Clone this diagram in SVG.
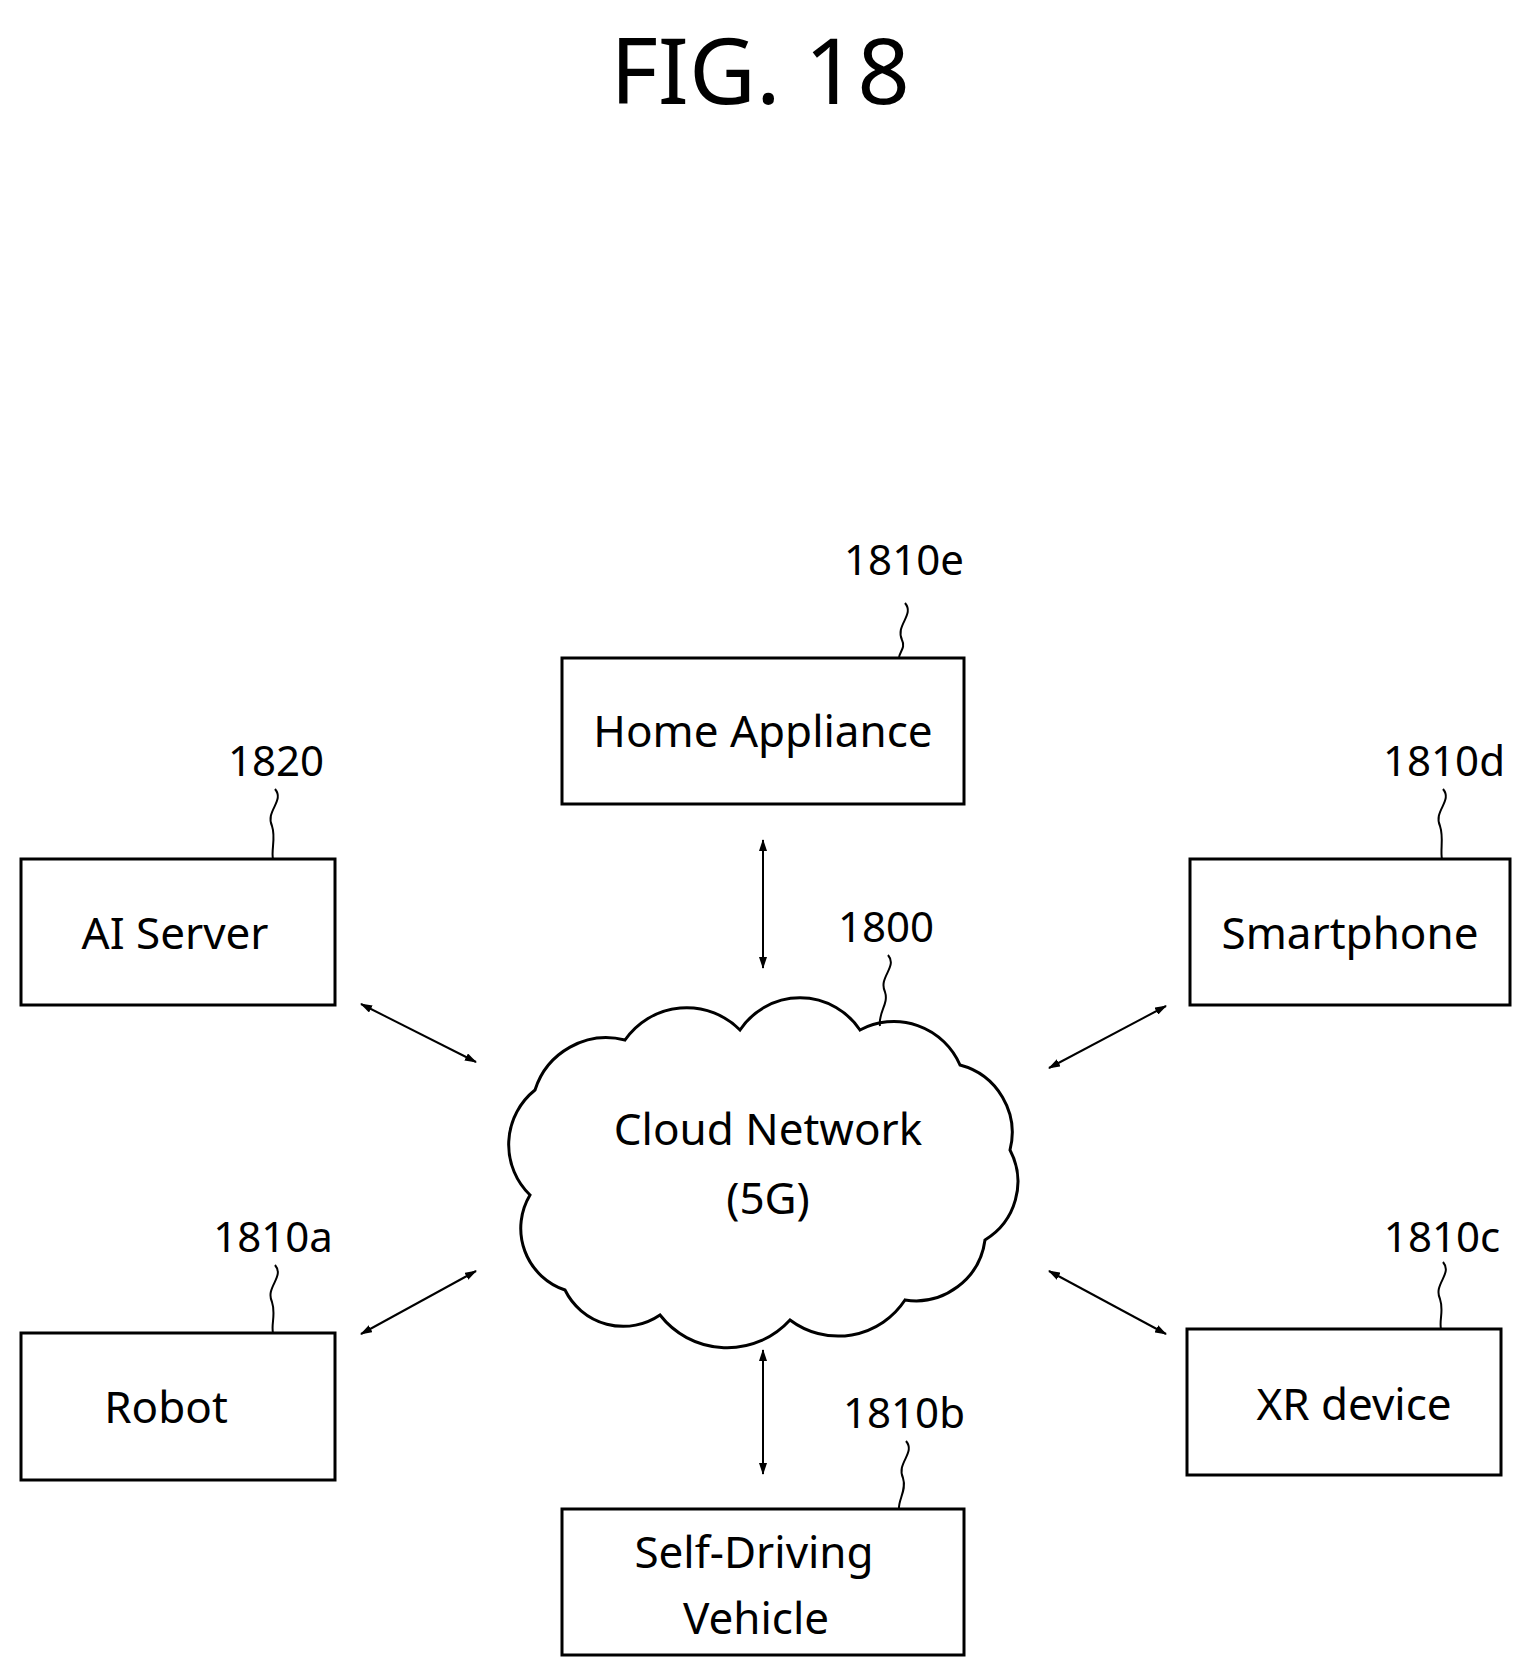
<svg xmlns="http://www.w3.org/2000/svg" width="1522" height="1673" viewBox="0 0 1522 1673">
<style>
.box{fill:none;stroke:#000;stroke-width:3}
.t{font-family:"Noto Sans","Open Sans",sans-serif;font-size:44px;text-anchor:middle;fill:#000}
.lbl{font-family:"Noto Sans","Open Sans",sans-serif;font-size:42px;text-anchor:middle;fill:#000}
.sq{fill:none;stroke:#000;stroke-width:2}
.ar{stroke:#000;stroke-width:2;marker-start:url(#ah);marker-end:url(#ah)}
</style>
<defs>
<marker id="ah" viewBox="0 0 12 8" refX="11" refY="4" markerWidth="12" markerHeight="8" markerUnits="userSpaceOnUse" orient="auto-start-reverse">
<path d="M0,0 L12,4 L0,8 Z" fill="#000"/>
</marker>
</defs>
<rect width="1522" height="1673" fill="#fff"/>
<text x="760" y="104" font-family="Noto Sans,Open Sans,sans-serif" font-size="92" text-anchor="middle">FIG. 18</text>

<g id="home"><rect class="box" x="562" y="658" width="402" height="146"/><text class="t" x="763" y="747">Home Appliance</text></g>
<g id="ai"><rect class="box" x="21" y="859" width="314" height="146"/><text class="t" x="175" y="949">AI Server</text></g>
<g id="smart"><rect class="box" x="1190" y="859" width="320" height="146"/><text class="t" x="1350" y="949">Smartphone</text></g>
<g id="robot"><rect class="box" x="21" y="1333" width="314" height="147"/><text class="t" x="166" y="1423">Robot</text></g>
<g id="xr"><rect class="box" x="1187" y="1329" width="314" height="146"/><text class="t" x="1354" y="1420">XR device</text></g>
<g id="sdv"><rect class="box" x="562" y="1509" width="402" height="146"/><text class="t" x="754" y="1568">Self-Driving</text><text class="t" x="756" y="1634">Vehicle</text></g>
<g id="cloud">
<path class="box" d="M565,1290 A65,65 0 0 1 530,1195 A70,70 0 0 1 535,1090 A75,75 0 0 1 625,1040 A75,75 0 0 1 740,1030 A72,72 0 0 1 860,1030 A72,72 0 0 1 960,1065 A70,70 0 0 1 1010,1150 A68,68 0 0 1 985,1240 A70,70 0 0 1 905,1300 A80,80 0 0 1 790,1320 A85,85 0 0 1 660,1315 A65,65 0 0 1 565,1290 Z"/>
<text class="t" x="768" y="1145">Cloud Network</text><text class="t" x="768" y="1214">(5G)</text>
</g>

<g id="labels">
<text class="lbl" x="904" y="575">1810e</text>
<text class="lbl" x="276" y="776">1820</text>
<text class="lbl" x="1444" y="776">1810d</text>
<text class="lbl" x="886" y="942">1800</text>
<text class="lbl" x="273" y="1252">1810a</text>
<text class="lbl" x="1442" y="1252">1810c</text>
<text class="lbl" x="904" y="1428">1810b</text>
<path class="sq" d="M905,603 C915,615 895,625 902,640 C906,648 899,652 899,658"/>
<path class="sq" d="M275,789 C285,801 265,811 272,826 C276,838 271,850 273,859"/>
<path class="sq" d="M1443,789 C1453,801 1433,811 1440,826 C1444,838 1440,850 1442,859"/>
<path class="sq" d="M888,955 C898,967 878,977 885,992 C889,1004 878,1012 880,1026"/>
<path class="sq" d="M275,1265 C285,1277 265,1287 272,1302 C276,1314 271,1324 273,1333"/>
<path class="sq" d="M1443,1262 C1453,1274 1433,1284 1440,1299 C1444,1311 1439,1320 1441,1329"/>
<path class="sq" d="M906,1441 C916,1453 896,1463 903,1478 C907,1490 898,1500 899,1509"/>
</g>

<g id="connectors">
<line class="ar" x1="763" y1="840" x2="763" y2="968"/>
<line class="ar" x1="361" y1="1004" x2="476" y2="1062"/>
<line class="ar" x1="1166" y1="1006" x2="1049" y2="1068"/>
<line class="ar" x1="361" y1="1334" x2="476" y2="1271"/>
<line class="ar" x1="1049" y1="1271" x2="1166" y2="1334"/>
<line class="ar" x1="763" y1="1350" x2="763" y2="1474"/>
</g>
</svg>
